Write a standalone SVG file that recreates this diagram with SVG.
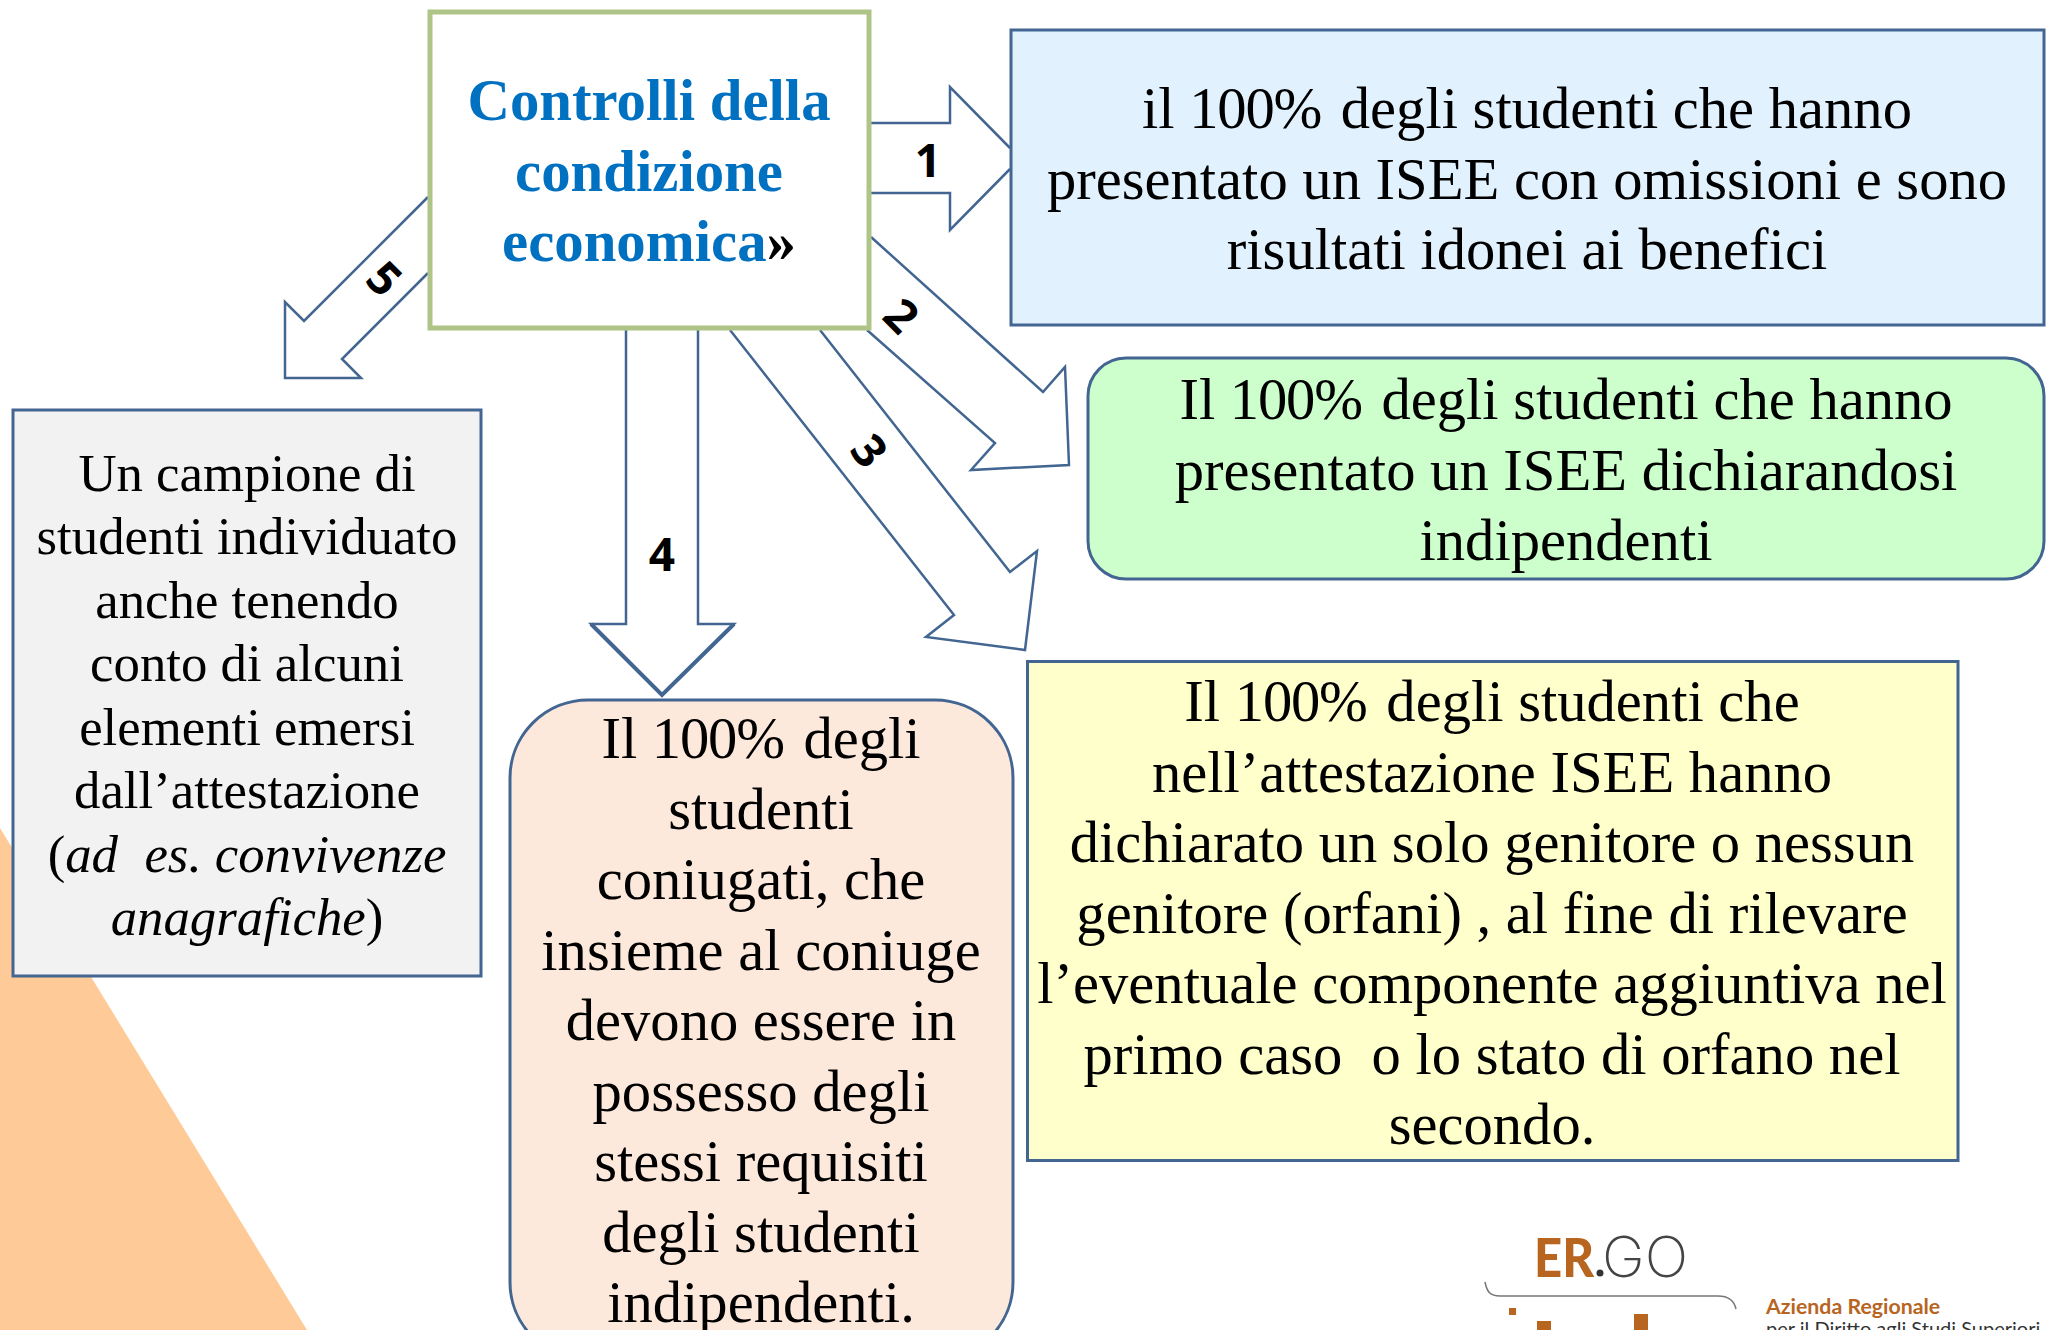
<svg xmlns="http://www.w3.org/2000/svg" width="2049" height="1330" viewBox="0 0 2049 1330">
<style>
.box{stroke:#426591;stroke-width:3}
.arrow{fill:none;stroke:#426591;stroke-width:2.5;stroke-linejoin:miter}
.t{font-family:"Liberation Serif",serif;font-size:58.6px;fill:#000;text-anchor:middle;white-space:pre}
.g{font-family:"Liberation Serif",serif;font-size:52.8px;fill:#000;text-anchor:middle;white-space:pre}
.h{font-family:"Liberation Serif",serif;font-size:58.8px;font-weight:bold;fill:#0070c0;text-anchor:middle}
.n{font-family:"Open Sans",sans-serif;font-size:46px;font-weight:bold;fill:#000;text-anchor:middle}
.pct{letter-spacing:-1.2px}
</style>
<rect width="2049" height="1330" fill="#fff"/>
<polygon id="bg-triangle" points="0,828 307,1330 0,1330" fill="#fecb98"/>
<g id="connectors">
<path class="arrow" d="M871,123H950V87L1010,148M1010,169L950,230V193H871"/>
<path class="arrow" d="M871,237L1043,392L1065,367L1069,465L971,470L995,443L867,330"/>
<path class="arrow" d="M730,330L954,615L926,637L1025,650L1037,551L1010,572L820,330"/>
<path class="arrow" d="M626,330V624H591L662,695L734,624H698V330"/>
<path d="M591,624L662,695L734,624" fill="none" stroke="#426591" stroke-width="4"/>
<path class="arrow" d="M428,197L304,321L285,302V378H361L342,359L428,273"/>
<text class="n" transform="translate(928,177)">1</text>
<text class="n" transform="translate(901,316) rotate(45)" dy="16">2</text>
<text class="n" transform="translate(869,451) rotate(52)" dy="16">3</text>
<text class="n" transform="translate(662,571)">4</text>
<text class="n" transform="translate(384,279) rotate(45)" dy="16">5</text>
</g>
<g id="node-main">
<rect x="430" y="12" width="439" height="316" fill="#fff" stroke="#afc587" stroke-width="5"/>
<text class="h" x="649" y="120">Controlli della</text>
<text class="h" x="649" y="191">condizione</text>
<text class="h" x="649" y="261">economica<tspan fill="#000">»</tspan></text>
</g>
<g id="node-blue">
<rect class="box" x="1011" y="30" width="1033" height="295" fill="#e1f2fe"/>
<text class="t" x="1527" y="128">il <tspan class="pct">100%</tspan> <tspan dx="5">degli</tspan> studenti che hanno</text>
<text class="t" x="1527" y="199">presentato un ISEE con omissioni e sono</text>
<text class="t" x="1527" y="269">risultati idonei ai benefici</text>
</g>
<g id="node-green">
<rect class="box" x="1088" y="358" width="956" height="221" rx="38" fill="#ccffcc"/>
<text class="t" x="1566" y="419">Il <tspan class="pct">100%</tspan> <tspan dx="5">degli</tspan> studenti che hanno</text>
<text class="t" x="1566" y="490">presentato un ISEE dichiarandosi</text>
<text class="t" x="1566" y="560">indipendenti</text>
</g>
<g id="node-yellow">
<rect class="box" x="1027.500" y="661.500" width="930.500" height="499" fill="#ffffcc"/>
<text class="t" x="1492" y="721">Il <tspan class="pct">100%</tspan> <tspan dx="5">degli</tspan> studenti che</text>
<text class="t" x="1492" y="792">nell’attestazione ISEE hanno</text>
<text class="t" x="1492" y="862">dichiarato un solo genitore o nessun</text>
<text class="t" x="1492" y="933">genitore (orfani) , al fine di rilevare</text>
<text class="t" x="1492" y="1003">l’eventuale componente aggiuntiva nel</text>
<text class="t" x="1492" y="1074">primo caso  o lo stato di orfano nel</text>
<text class="t" x="1492" y="1144">secondo.</text>
</g>
<g id="node-grey">
<rect class="box" x="13" y="410" width="468" height="566" fill="#f2f2f2"/>
<text class="g" x="247" y="491">Un campione di</text>
<text class="g" x="247" y="554">studenti individuato</text>
<text class="g" x="247" y="618">anche tenendo</text>
<text class="g" x="247" y="681">conto di alcuni</text>
<text class="g" x="247" y="745">elementi emersi</text>
<text class="g" x="247" y="808">dall’attestazione</text>
<text class="g" x="247" y="872">(<tspan font-style="italic">ad  es. convivenze</tspan></text>
<text class="g" x="247" y="935"><tspan font-style="italic">anagrafiche</tspan>)</text>
</g>
<g id="node-peach">
<rect class="box" x="510" y="700" width="503" height="660" rx="78" fill="#fde9dc"/>
<text class="t" x="761" y="758">Il <tspan class="pct">100%</tspan> <tspan dx="5">degli</tspan></text>
<text class="t" x="761" y="829">studenti</text>
<text class="t" x="761" y="899">coniugati, che</text>
<text class="t" x="761" y="970">insieme al coniuge</text>
<text class="t" x="761" y="1040">devono essere in</text>
<text class="t" x="761" y="1111">possesso degli</text>
<text class="t" x="761" y="1181">stessi requisiti</text>
<text class="t" x="761" y="1252">degli studenti</text>
<text class="t" x="761" y="1322">indipendenti.</text>
</g>
<g id="logo">
<text x="1534" y="1277" font-family="Lato,sans-serif" font-size="54" font-weight="900" fill="#b8651f" textLength="60" lengthAdjust="spacingAndGlyphs">ER</text>
<circle cx="1600" cy="1273" r="3.500" fill="#333"/>
<text x="1602" y="1277" font-family="Inter,sans-serif" font-size="56" font-weight="200" fill="#444" textLength="86" lengthAdjust="spacingAndGlyphs">GO</text>
<path d="M1485,1282C1487,1292 1490,1296 1500,1296H1718C1728,1296 1734,1300 1736,1309" fill="none" stroke="#777" stroke-width="1.500"/>
<rect x="1509" y="1308" width="7" height="7" fill="#b8651f"/>
<rect x="1537" y="1321" width="14" height="9" fill="#b8651f"/>
<rect x="1634" y="1314" width="14" height="16" fill="#b8651f"/>
<text x="1766" y="1314" font-family="Lato,sans-serif" font-size="21.300" font-weight="bold" fill="#b8651f">Azienda Regionale</text>
<text x="1766" y="1336" font-family="Lato,sans-serif" font-size="20" fill="#333">per il Diritto agli Studi Superiori</text>
</g>
</svg>
